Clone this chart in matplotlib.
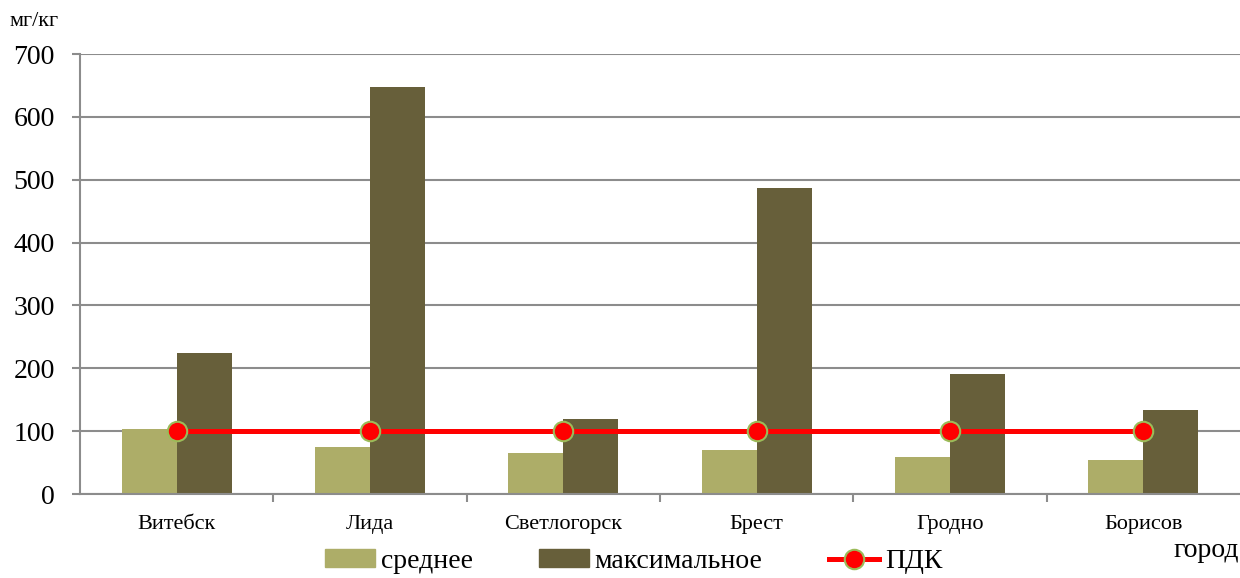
import numpy as np
import matplotlib.pyplot as plt
from matplotlib.lines import Line2D
from matplotlib.patches import Patch

plt.rcParams['font.family'] = ['Liberation Serif', 'DejaVu Serif']

cities = ['Витебск', 'Лида', 'Светлогорск', 'Брест', 'Гродно', 'Борисов']
mean_vals = [103, 75, 66, 70, 59, 54]
max_vals = [224, 648, 120, 487, 191, 134]
pdk_vals = [100, 100, 100, 100, 100, 100]

c_mean = '#ADAD68'
c_max = '#675F3A'
c_grid = '#8C8C8C'

fig = plt.figure(figsize=(12.4, 5.78), dpi=100)
ax = fig.add_axes([0.0645, 0.1453, 0.9355, 0.7612])

x = np.arange(len(cities))
w = 0.285
ax.bar(x - w / 2, mean_vals, width=w, color=c_mean, zorder=2)
ax.bar(x + w / 2, max_vals, width=w, color=c_max, zorder=2)
ax.plot(x, pdk_vals, color='#FF0000', lw=3.6, marker='o', markersize=14,
        markerfacecolor='#FF0000', markeredgecolor='#9BBB59', markeredgewidth=1.5, zorder=3)

ax.set_xlim(-0.5, len(cities) - 0.5)
ax.set_ylim(0, 700)
ax.set_yticks(range(0, 701, 100))
ax.yaxis.grid(True, color=c_grid, lw=1.5, zorder=0)
ax.tick_params(axis='y', labelsize=20, length=6, width=1.5, color=c_grid, pad=12)

ax.set_xticks(np.arange(len(cities) - 1) + 0.5)
ax.set_xticklabels([])
ax.tick_params(axis='x', which='major', length=6, width=1.5, color=c_grid)
ax.set_xticks(x, minor=True)
ax.set_xticklabels(cities, minor=True)
ax.tick_params(axis='x', which='minor', length=0, labelsize=16, pad=15)

for s in ['top', 'right']:
    ax.spines[s].set_visible(False)
for s in ['left', 'bottom']:
    ax.spines[s].set_color(c_grid)
    ax.spines[s].set_linewidth(1.5)

fig.text(0.008, 0.962, 'мг/кг', fontsize=16, ha='left', va='center')
fig.text(0.999, 0.048, 'город', fontsize=20, ha='right', va='center')

handles = [Patch(color=c_mean), Patch(color=c_max),
           Line2D([], [], color='#FF0000', lw=3.6, marker='o', markersize=14,
                  markerfacecolor='#FF0000', markeredgecolor='#9BBB59', markeredgewidth=1.5)]
fig.legend(handles, ['среднее', 'максимальное', 'ПДК'], ncol=3, loc='lower center',
           bbox_to_anchor=(0.511, -0.036), frameon=False, fontsize=20,
           handlelength=1.8, handleheight=0.6, handletextpad=0.2, columnspacing=2.4)

fig.savefig('out.png', dpi=100)
